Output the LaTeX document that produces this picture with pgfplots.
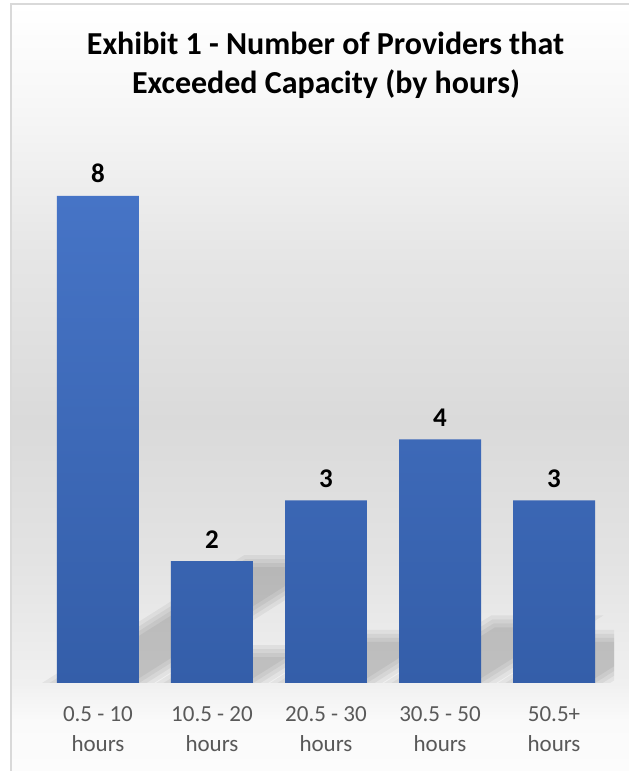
\documentclass[border=0pt]{standalone}
\usepackage{pgfplots}
\pgfplotsset{compat=1.18}
\usepackage{fontspec}
\setmainfont{Carlito}
\definecolor{tickgray}{HTML}{595959}
\definecolor{barTop}{HTML}{4674C6}
\definecolor{barBot}{HTML}{345EA9}
\definecolor{frameC}{HTML}{D9D9D9}
\definecolor{bg0}{HTML}{FCFCFC}
\definecolor{bg1}{HTML}{FAFAFA}
\definecolor{bg2}{HTML}{F0F0F0}
\definecolor{bg3}{HTML}{E3E3E3}
\definecolor{bg4}{HTML}{DADADA}
\definecolor{bg5}{HTML}{E6E6E6}
\definecolor{bg6}{HTML}{F7F7F7}
\definecolor{bg7}{HTML}{FFFFFF}
\pgfdeclareverticalshading{bgshade}{100bp}{color(0bp)=(bg0); color(25bp)=(bg0); color(28.31bp)=(bg1); color(30.71bp)=(bg2); color(38.68bp)=(bg3); color(47.76bp)=(bg4); color(58.79bp)=(bg5); color(68.52bp)=(bg6); color(75bp)=(bg7); color(100bp)=(bg7)}
\pgfplotsset{sh/.style={fill=black, fill opacity=0.05, draw=none}}
\begin{document}
\begin{tikzpicture}[x=1pt,y=1pt]
\useasboundingbox (0,0) rectangle (629,771);
\fill[white] (0,0) rectangle (629,771);
\shade[shading=bgshade] (11,0) rectangle (629,767);
\draw[frameC, line width=1.5pt] (11,0) -- (11,767) -- (629,767);
\node[anchor=base, font=\bfseries\fontsize{32}{38}\selectfont] at (325.5,716) {Exhibit 1 - Number of Providers that};
\node[anchor=base, font=\bfseries\fontsize{32}{38}\selectfont] at (326,677.5) {Exceeded Capacity (by hours)};
\begin{axis}[
  at={(38pt,88pt)}, anchor=south west,
  scale only axis, width=576pt, height=548pt,
  xmin=-0.526, xmax=4.526, ymin=0, ymax=9,
  axis line style={draw=none},
  ytick=\empty,
  xtick={0,1,2,3,4},
  major tick length=0pt,
  xticklabels={{0.5 - 10\\hours},{10.5 - 20\\hours},{20.5 - 30\\hours},{30.5 - 50\\hours},{50.5+\\hours}},
  xticklabel style={align=center, font=\fontsize{23}{30}\selectfont, text=tickgray, inner sep=0pt, anchor=north, yshift=-23pt},
  /pgf/number format/assume math mode=true,
  clip=true,
]
% soft perspective shadows (layers: outset 8px, 4px, exact, inset 4px)
\addplot[sh] coordinates {(-0.6021,-0.1314) (0.3804,-0.1314) (2.2661,2.1014) (1.2836,2.1014)} -- cycle;
\addplot[sh] coordinates {(-0.4811,-0.0657) (0.3702,-0.0657) (2.1451,2.0357) (1.2938,2.0357)} -- cycle;
\addplot[sh] coordinates {(-0.36,0) (0.36,0) (2.024,1.97) (1.304,1.97)} -- cycle;
\addplot[sh] coordinates {(-0.2389,0.0657) (0.3498,0.0657) (1.9029,1.9043) (1.3142,1.9043)} -- cycle;
\addplot[sh] coordinates {(0.3979,-0.1314) (1.3804,-0.1314) (2.0181,0.6214) (1.0356,0.6214)} -- cycle;
\addplot[sh] coordinates {(0.5189,-0.0657) (1.3702,-0.0657) (1.8971,0.5557) (1.0458,0.5557)} -- cycle;
\addplot[sh] coordinates {(0.64,0) (1.36,0) (1.776,0.49) (1.056,0.49)} -- cycle;
\addplot[sh] coordinates {(0.7611,0.0657) (1.3498,0.0657) (1.6549,0.4243) (1.0662,0.4243)} -- cycle;
\addplot[sh] coordinates {(1.3979,-0.1314) (2.3804,-0.1314) (3.2261,0.8714) (2.2436,0.8714)} -- cycle;
\addplot[sh] coordinates {(1.5189,-0.0657) (2.3702,-0.0657) (3.1051,0.8057) (2.2538,0.8057)} -- cycle;
\addplot[sh] coordinates {(1.64,0) (2.36,0) (2.984,0.74) (2.264,0.74)} -- cycle;
\addplot[sh] coordinates {(1.7611,0.0657) (2.3498,0.0657) (2.8629,0.6743) (2.2742,0.6743)} -- cycle;
\addplot[sh] coordinates {(2.3979,-0.1314) (3.3804,-0.1314) (4.4341,1.1114) (3.4516,1.1114)} -- cycle;
\addplot[sh] coordinates {(2.5189,-0.0657) (3.3702,-0.0657) (4.3131,1.0457) (3.4618,1.0457)} -- cycle;
\addplot[sh] coordinates {(2.64,0) (3.36,0) (4.192,0.98) (3.472,0.98)} -- cycle;
\addplot[sh] coordinates {(2.7611,0.0657) (3.3498,0.0657) (4.0709,0.9143) (3.4822,0.9143)} -- cycle;
\addplot[sh] coordinates {(3.3979,-0.1314) (4.3804,-0.1314) (5.2261,0.8714) (4.2436,0.8714)} -- cycle;
\addplot[sh] coordinates {(3.5189,-0.0657) (4.3702,-0.0657) (5.1051,0.8057) (4.2538,0.8057)} -- cycle;
\addplot[sh] coordinates {(3.64,0) (4.36,0) (4.984,0.74) (4.264,0.74)} -- cycle;
\addplot[sh] coordinates {(3.7611,0.0657) (4.3498,0.0657) (4.8629,0.6743) (4.2742,0.6743)} -- cycle;
\addplot[ybar, bar width=0.719, draw=none, top color=barTop, bottom color=barBot,
  nodes near coords, nodes near coords style={font=\bfseries\fontsize{27}{30}\selectfont, text=black, anchor=base, yshift=13pt, inner sep=0pt}]
  coordinates {(0,8) (1,2) (2,3) (3,4) (4,3)};
\end{axis}
\end{tikzpicture}
\end{document}
